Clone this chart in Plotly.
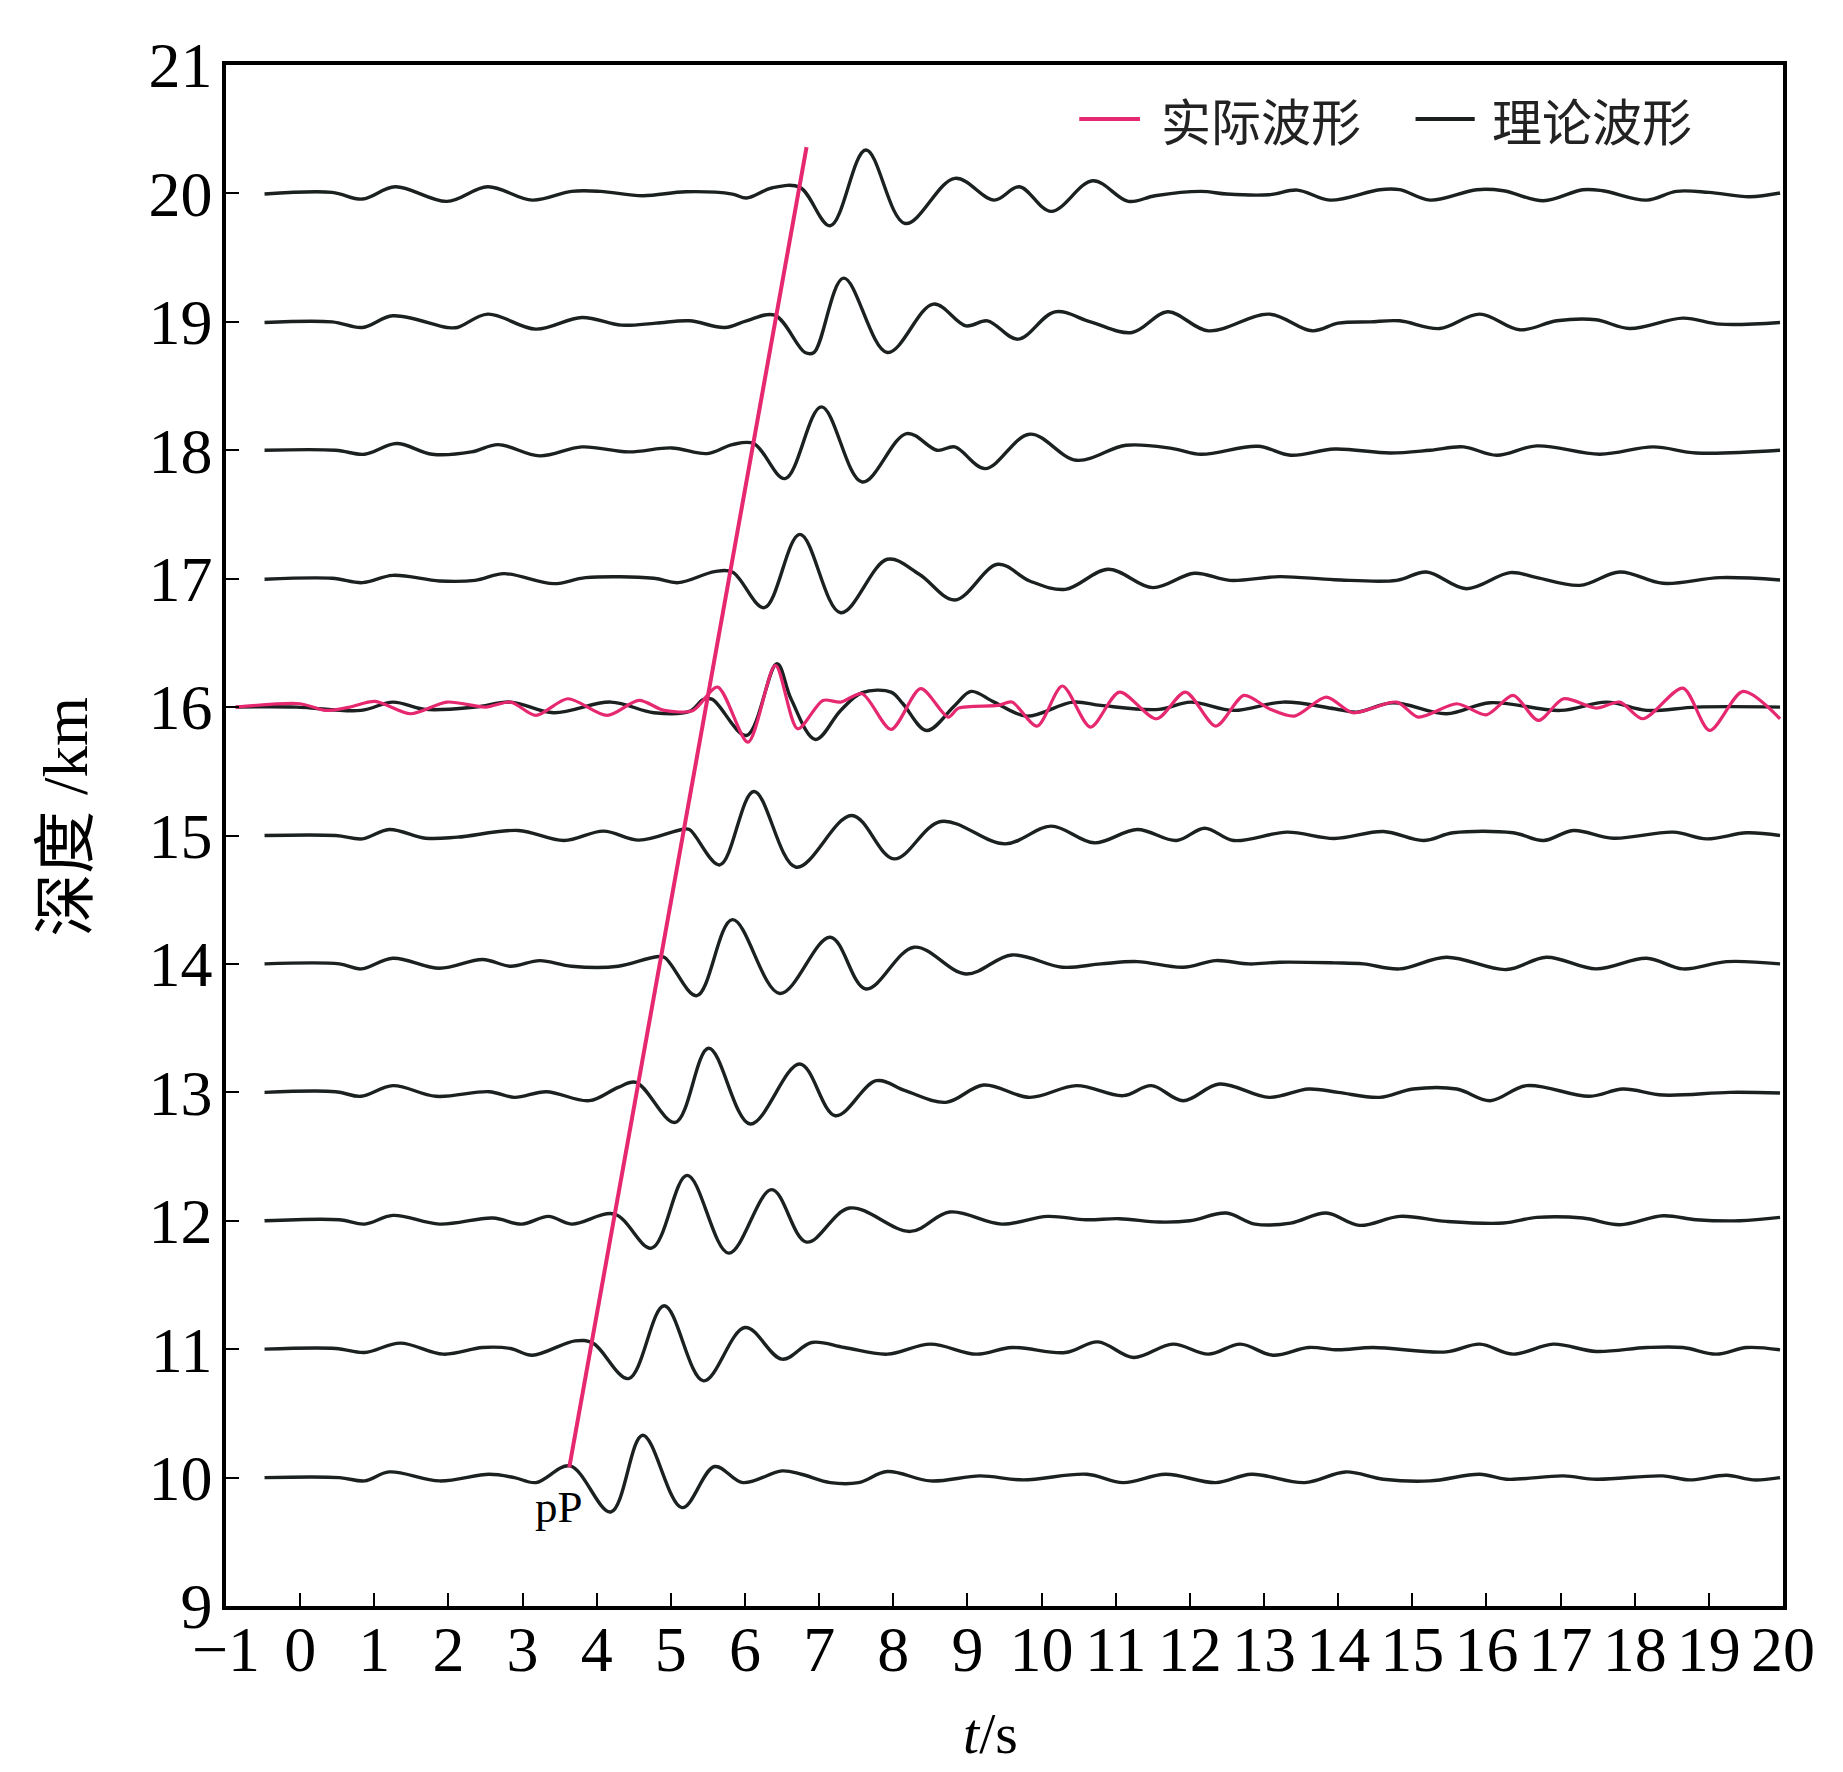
import plotly.graph_objects as go

# Synthetic (theoretical) waveforms: time (s) and amplitude offset (km units) per depth
depths = [20, 19, 18, 17, 16, 15, 14, 13, 12, 11, 10]

t_d20 = [-0.48, 0.43, 0.84, 1.28, 1.98, 2.53, 3.13, 3.66, 4.05, 4.62, 5.2, 5.83, 6.02, 6.36, 6.74,
         7.15, 7.63, 8.16, 8.83, 9.36, 9.7, 10.13, 10.69, 11.17, 11.53, 12.15, 12.5, 13.07, 13.45,
         13.89, 14.56, 14.83, 15.24, 15.87, 16.23, 16.77, 17.3, 17.57, 18.16, 18.56, 19.0, 19.55, 19.96]
amp_d20 = [-0.005, 0.008, -0.044, 0.052, -0.062, 0.052, -0.052, 0.016, 0.016, -0.018, 0.013, -0.005,
           -0.036, 0.042, 0.047, -0.252, 0.338, -0.234, 0.117, -0.052, 0.052, -0.14, 0.099, -0.062,
           -0.018, 0.016, -0.005, -0.01, 0.026, -0.052, 0.029, 0.029, -0.052, 0.029, 0.021, -0.057,
           0.029, 0.021, -0.052, 0.016, 0.008, -0.026, 0.003]

t_d19 = [-0.48, 0.43, 0.84, 1.25, 1.98, 2.12, 2.53, 3.18, 3.8, 4.33, 4.8, 5.25, 5.73, 6.02, 6.4, 6.81,
         6.93, 7.33, 7.92, 8.54, 8.98, 9.27, 9.68, 10.18, 10.66, 11.22, 11.7, 12.25, 13.07, 13.65,
         14.0, 14.43, 14.83, 15.37, 15.91, 16.45, 16.95, 17.48, 17.93, 18.65, 19.15, 19.96]
amp_d19 = [-0.005, 0.0, -0.044, 0.047, -0.044, -0.044, 0.06, -0.057, 0.034, -0.026, -0.01, 0.008,
           -0.044, 0.008, 0.052, -0.239, -0.239, 0.34, -0.239, 0.138, -0.031, 0.008, -0.135, 0.078,
           0.0, -0.083, 0.078, -0.07, 0.06, -0.07, -0.01, 0.0, 0.008, -0.052, 0.06, -0.062, 0.008,
           0.016, -0.052, 0.029, -0.018, -0.005]

t_d18 = [-0.48, 0.48, 0.87, 1.3, 1.78, 2.31, 2.67, 3.23, 3.8, 4.43, 5.01, 5.49, 5.83, 6.12, 6.54, 7.03,
         7.58, 8.18, 8.59, 8.83, 9.24, 9.84, 10.47, 11.14, 11.77, 12.15, 12.92, 13.36, 13.95, 14.7,
         15.24, 15.69, 16.14, 16.68, 17.53, 18.25, 18.83, 19.96]
amp_d18 = [0.0, 0.0, -0.031, 0.052, -0.031, -0.013, 0.044, -0.044, 0.026, -0.013, 0.018, -0.026,
           0.044, 0.052, -0.221, 0.338, -0.247, 0.13, 0.0, 0.026, -0.143, 0.125, -0.078, 0.039,
           0.013, -0.031, 0.031, -0.039, 0.01, -0.021, 0.0, 0.026, -0.039, 0.034, -0.031, 0.026,
           -0.021, 0.0]

t_d17 = [-0.48, 0.43, 0.84, 1.25, 1.88, 2.36, 2.75, 3.42, 3.85, 4.77, 5.1, 5.59, 5.83, 6.26, 6.74,
         7.29, 7.92, 8.35, 8.83, 9.41, 9.84, 10.32, 10.9, 11.5, 12.06, 12.54, 13.21, 13.95, 14.79,
         15.19, 15.73, 16.32, 16.68, 17.26, 17.8, 18.38, 19.15, 19.96]
amp_d17 = [-0.005, 0.003, -0.031, 0.026, -0.018, -0.013, 0.039, -0.039, 0.008, 0.003, -0.031, 0.055,
           0.052, -0.226, 0.345, -0.265, 0.151, 0.034, -0.166, 0.112, -0.018, -0.083, 0.073, -0.07,
           0.042, -0.013, 0.016, -0.008, -0.013, 0.052, -0.078, 0.047, 0.008, -0.052, 0.052,
           -0.036, 0.008, -0.01]

t_d16 = [-0.87, -0.05, 0.82, 1.25, 1.69, 2.36, 2.84, 3.42, 4.19, 4.77, 5.25, 5.44, 5.56, 6.02, 6.43,
         6.62, 6.95, 7.29, 7.58, 7.97, 8.13, 8.45, 8.83, 9.05, 9.36, 9.8, 10.42, 10.8, 11.58, 12.01,
         12.59, 13.26, 13.95, 14.25, 14.74, 15.46, 16.05, 17.0, 17.62, 18.16, 18.83, 19.96]
amp_d16 = [0.0, 0.0, -0.026, 0.039, -0.018, 0.0, 0.039, -0.044, 0.039, -0.044, -0.034, 0.06, 0.06,
           -0.221, 0.338, 0.065, -0.252, -0.026, 0.112, 0.117, 0.026, -0.182, 0.013, 0.122, 0.039,
           -0.07, 0.039, 0.013, -0.018, 0.039, -0.026, 0.039, -0.013, -0.039, 0.034, -0.052, 0.034,
           -0.026, 0.039, -0.026, 0.0, 0.0]

t_d15 = [-0.48, 0.48, 0.84, 1.2, 1.69, 2.12, 2.94, 3.56, 4.09, 4.57, 5.15, 5.25, 5.66, 6.12, 6.69,
         7.44, 8.01, 8.64, 9.51, 10.13, 10.71, 11.29, 11.82, 12.2, 12.59, 13.31, 13.95, 14.61, 15.15,
         15.55, 16.36, 16.77, 17.17, 17.71, 18.52, 18.97, 19.51, 19.96]
amp_d15 = [0.0, 0.0, -0.026, 0.047, -0.021, -0.013, 0.039, -0.039, 0.034, -0.036, 0.047, 0.047,
           -0.229, 0.343, -0.247, 0.156, -0.182, 0.109, -0.065, 0.073, -0.057, 0.047, -0.039, 0.057,
           -0.039, 0.026, -0.023, 0.031, -0.039, 0.021, 0.021, -0.039, 0.039, -0.021, 0.026, -0.026,
           0.021, 0.0]

t_d14 = [-0.48, 0.53, 0.82, 1.25, 1.88, 2.46, 2.84, 3.23, 3.66, 4.29, 4.77, 4.91, 5.35, 5.83, 6.47,
         7.15, 7.63, 8.28, 8.98, 9.6, 10.28, 10.8, 11.29, 11.91, 12.35, 12.8, 13.21, 13.95, 14.34,
         14.83, 15.46, 16.27, 16.81, 17.48, 18.16, 18.65, 19.24, 19.96]
amp_d14 = [0.0, 0.0, -0.039, 0.044, -0.034, 0.034, -0.018, 0.026, -0.018, -0.018, 0.052, 0.052,
           -0.247, 0.345, -0.23, 0.208, -0.195, 0.13, -0.078, 0.07, -0.026, 0.0, 0.018, -0.026,
           0.026, 0.0, 0.013, 0.008, 0.0, -0.039, 0.052, -0.044, 0.052, -0.039, 0.044, -0.039,
           0.018, 0.0]

t_d13 = [-0.48, 0.48, 0.82, 1.25, 1.83, 2.55, 2.89, 3.32, 3.9, 4.29, 4.53, 5.06, 5.51, 6.07, 6.74,
         7.22, 7.77, 8.16, 8.71, 9.22, 9.84, 10.47, 11.1, 11.48, 11.91, 12.4, 13.07, 13.6, 14.0,
         14.56, 15.01, 15.6, 16.05, 16.54, 17.39, 17.84, 18.38, 19.28, 19.96]
amp_d13 = [0.0, 0.005, -0.031, 0.052, -0.031, 0.005, -0.039, 0.005, -0.065, 0.039, 0.078, -0.234,
           0.343, -0.247, 0.221, -0.182, 0.091, 0.013, -0.078, 0.057, -0.039, 0.052, -0.026, 0.052,
           -0.065, 0.065, -0.039, 0.026, 0.0, -0.039, 0.026, 0.026, -0.065, 0.052, -0.031, 0.026,
           -0.021, 0.0, -0.005]

t_d12 = [-0.48, 0.53, 0.87, 1.25, 1.88, 2.6, 2.99, 3.35, 3.66, 4.24, 4.74, 5.22, 5.78, 6.36, 6.83,
         7.41, 8.23, 8.76, 9.46, 10.08, 10.6, 11.05, 11.58, 12.0, 12.49, 12.88, 13.36, 13.84, 14.29,
         14.83, 15.46, 16.23, 16.68, 17.3, 17.8, 18.38, 18.83, 19.42, 19.96]
amp_d12 = [0.0, 0.008, -0.026, 0.042, -0.026, 0.021, -0.026, 0.034, -0.026, 0.052, -0.213, 0.353,
           -0.252, 0.242, -0.166, 0.099, -0.083, 0.068, -0.026, 0.034, 0.008, 0.016, -0.01, 0.0,
           0.06, -0.026, -0.018, 0.06, -0.036, 0.034, -0.005, -0.018, 0.026, 0.021, -0.031, 0.039,
           0.008, 0.0, 0.026]

t_d11 = [-0.48, 0.48, 0.87, 1.35, 1.93, 2.46, 2.84, 3.13, 3.71, 3.95, 4.43, 4.91, 5.44, 6.0, 6.5,
         6.9, 7.34, 7.92, 8.5, 9.12, 9.6, 10.32, 10.76, 11.24, 11.77, 12.25, 12.68, 13.12, 13.6,
         14.0, 14.47, 15.46, 15.91, 16.36, 16.9, 17.48, 18.16, 18.65, 19.1, 19.51, 19.96]
amp_d11 = [0.0, 0.005, -0.026, 0.047, -0.039, 0.013, 0.005, -0.047, 0.065, 0.047, -0.229, 0.338,
           -0.247, 0.169, -0.078, 0.052, 0.013, -0.039, 0.039, -0.039, 0.013, -0.026, 0.057, -0.065,
           0.039, -0.039, 0.039, -0.047, 0.013, -0.005, 0.013, -0.021, 0.039, -0.039, 0.039, -0.018,
           0.013, 0.013, -0.039, 0.013, -0.005]

t_d10 = [-0.48, 0.53, 0.87, 1.2, 1.88, 2.55, 2.89, 3.18, 3.64, 4.19, 4.62, 5.15, 5.59, 5.97, 6.5,
         6.76, 7.15, 7.53, 7.92, 8.5, 9.17, 9.75, 10.61, 11.1, 11.67, 12.35, 12.83, 13.55, 14.1,
         14.61, 15.24, 15.91, 16.27, 17.04, 17.48, 18.38, 18.74, 19.24, 19.6, 19.96]
amp_d10 = [0.0, 0.0, -0.026, 0.044, -0.026, 0.026, 0.0, -0.039, 0.091, -0.268, 0.33, -0.234, 0.086,
           -0.039, 0.052, 0.026, -0.039, -0.039, 0.047, -0.026, 0.013, -0.018, 0.026, -0.039, 0.026,
           -0.039, 0.026, -0.039, 0.044, -0.013, -0.026, 0.026, -0.013, 0.013, -0.013, 0.013,
           -0.018, 0.018, -0.018, 0.0]

# Observed (actual) waveform at 16 km
t_obs16 = [-0.87, 0.0, 0.34, 0.67, 1.01, 1.49, 1.98, 2.5, 2.84, 3.18, 3.61, 4.14, 4.57, 4.91, 5.3,
           5.63, 6.04, 6.41, 6.71, 7.05, 7.29, 7.58, 7.97, 8.37, 8.74, 8.88, 9.41, 9.6, 9.94, 10.28,
           10.66, 11.05, 11.55, 11.94, 12.35, 12.73, 13.07, 13.41, 13.84, 14.2, 14.79, 15.08, 15.6,
           16.0, 16.36, 16.7, 17.04, 17.48, 17.8, 18.11, 18.65, 19.01, 19.46, 19.96]
amp_obs16 = [0.0, 0.026, -0.026, 0.0, 0.044, -0.052, 0.039, 0.0, 0.039, -0.065, 0.065, -0.065, 0.052,
             -0.026, -0.026, 0.156, -0.273, 0.325, -0.169, 0.052, 0.039, 0.104, -0.174, 0.143,
             -0.078, -0.008, 0.013, 0.039, -0.148, 0.164, -0.156, 0.117, -0.091, 0.117, -0.148,
             0.091, -0.013, -0.07, 0.078, -0.044, 0.039, -0.078, 0.026, -0.06, 0.091, -0.104, 0.065,
             -0.008, 0.039, -0.091, 0.148, -0.182, 0.122, -0.091]

# pP arrival line
pp_t = [3.63, 6.83]
pp_depth = [10.08, 20.36]

x_ticks = list(range(-1, 21))
y_ticks = list(range(9, 22))

legend_names = ["实际波形", "理论波形"]

waveforms = {
    20: (t_d20, amp_d20), 19: (t_d19, amp_d19), 18: (t_d18, amp_d18), 17: (t_d17, amp_d17),
    16: (t_d16, amp_d16), 15: (t_d15, amp_d15), 14: (t_d14, amp_d14), 13: (t_d13, amp_d13),
    12: (t_d12, amp_d12), 11: (t_d11, amp_d11), 10: (t_d10, amp_d10),
}

BLACK = "#1b2020"
PINK = "#e5286f"
SERIF = "Liberation Serif, Times New Roman, Noto Sans CJK SC, serif"
CJK = "Noto Sans CJK SC, Liberation Serif, serif"

fig = go.Figure()
for d in depths:
    t, a = waveforms[d]
    fig.add_trace(go.Scatter(
        x=t, y=[d + v for v in a], mode="lines",
        line=dict(color=BLACK, width=3.4, shape="spline", smoothing=1.0),
        name=legend_names[1], showlegend=False, hoverinfo="skip",
    ))
    if d == 16:
        fig.add_trace(go.Scatter(
            x=t_obs16, y=[16 + v for v in amp_obs16], mode="lines",
            line=dict(color=PINK, width=3.2, shape="spline", smoothing=0.8),
            name=legend_names[0], showlegend=False, hoverinfo="skip",
        ))

fig.add_trace(go.Scatter(
    x=pp_t, y=pp_depth, mode="lines", line=dict(color=PINK, width=4),
    showlegend=False, hoverinfo="skip",
))

fig.add_annotation(x=3.49, y=9.77, text="pP", showarrow=False,
                   font=dict(family=SERIF, size=45, color="black"))

# legend drawn by hand so the sample lines match the original length
legend_items = [(0.548, 0.587, 0.599, PINK), (0.764, 0.802, 0.812, BLACK)]
for name, (x0, x1, xt, col) in zip(legend_names, legend_items):
    fig.add_shape(type="line", xref="paper", yref="paper", x0=x0, x1=x1, y0=0.965, y1=0.965,
                  line=dict(color=col, width=4))
    fig.add_annotation(xref="paper", yref="paper", x=xt, y=0.965, text=name, showarrow=False,
                       xanchor="left", yanchor="middle",
                       font=dict(family=CJK, size=50, color="#222222"))

# axis titles
fig.add_annotation(xref="paper", yref="paper", x=0.491, y=-0.083, text="<i>t</i>/s",
                   showarrow=False, xanchor="center", yanchor="middle",
                   font=dict(family=SERIF, size=58, color="black"))
fig.add_annotation(xref="paper", yref="paper", x=-0.103, y=0.512, text="深度 /km",
                   showarrow=False, textangle=-90, xanchor="center", yanchor="middle",
                   font=dict(family=SERIF, size=63, color="black"))

axis_common = dict(
    showgrid=False, zeroline=False, showline=True, linecolor="black", linewidth=3.5,
    mirror=True, ticks="inside", ticklen=13, tickwidth=2, tickcolor="black",
    tickfont=dict(family=SERIF, size=64, color="black"), automargin=False,
)
fig.update_xaxes(range=[-1, 20], tickvals=x_ticks, ticklabelstandoff=-16, **axis_common)
fig.update_yaxes(range=[9, 21], tickvals=y_ticks, ticklabelstandoff=-3, **axis_common)

# the page body adds an 8 px offset, so the figure is 8 px smaller and margins shift
fig.update_layout(
    width=1835, height=1764, autosize=False,
    margin=dict(l=218, r=60, t=57, b=166),
    plot_bgcolor="white", paper_bgcolor="white",
    showlegend=False,
)

fig.write_html("out.html")
